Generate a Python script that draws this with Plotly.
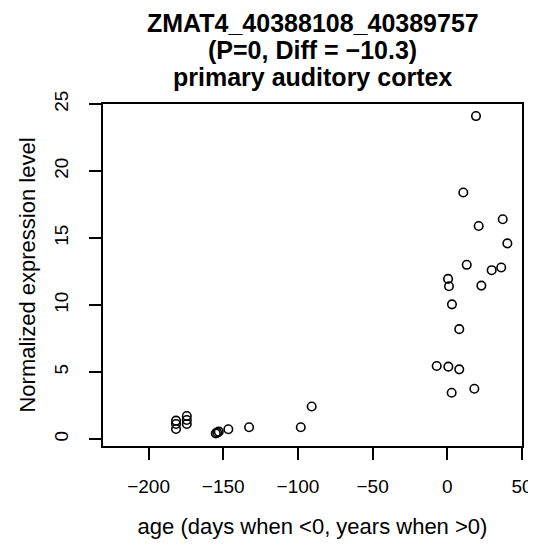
import plotly.graph_objects as go

# age (days when <0, years when >0) and normalized expression level
age = [-181.6, -181.6, -181.6, -174.4, -174.4, -174.4,
       -155, -154, -153, -146.6, -132.7, -98.1, -90.8,
       -7.1, 0.5, 1.1, 0.7, 2.9, 3.1, 8.0, 8.0, 10.7, 13.0,
       18.1, 19.2, 21.0, 22.8, 29.7, 36.1, 37.1, 40.2]
expr = [1.37, 1.12, 0.75, 1.72, 1.42, 1.12,
        0.42, 0.48, 0.55, 0.73, 0.88, 0.88, 2.43,
        5.45, 11.95, 11.4, 5.4, 3.45, 10.05, 8.2, 5.2, 18.4, 13.0,
        3.75, 24.1, 15.9, 11.45, 12.6, 12.8, 16.4, 14.6]

x_ticks = [-200, -150, -100, -50, 0, 50]
y_ticks = [0, 5, 10, 15, 20, 25]

title_lines = ["ZMAT4_40388108_40389757",
               "(P=0, Diff = \u221210.3)",
               "primary auditory cortex"]

# the page body has an 8px margin, so the figure is 8px smaller than the window
W, H = 528, 545
L, R, T, B = 95, 14, 96, 107
plot_h = H - T - B

fig = go.Figure()
fig.add_trace(
    go.Scatter(
        x=age,
        y=expr,
        mode="markers",
        marker=dict(symbol="circle-open", size=8.5, color="black",
                    line=dict(width=1.6, color="black")),
        showlegend=False,
    )
)

fig.update_xaxes(
    range=[-230.5, 50],
    tickvals=x_ticks,
    ticks="outside",
    ticklen=12,
    tickwidth=1.5,
    tickcolor="black",
    tickfont=dict(size=19),
    showline=True,
    linecolor="black",
    linewidth=1.5,
    mirror=True,
    showgrid=False,
    zeroline=False,
    automargin=False,
    ticklabelstandoff=10,
    title=dict(text="age (days when <0, years when >0)", standoff=23),
)
fig.update_yaxes(
    range=[-0.52, 25],
    tickvals=y_ticks,
    tickangle=-90,
    ticks="outside",
    ticklen=12,
    tickwidth=1.5,
    tickcolor="black",
    tickfont=dict(size=19),
    showline=True,
    linecolor="black",
    linewidth=1.5,
    mirror=True,
    showgrid=False,
    zeroline=False,
    automargin=False,
    ticklabelstandoff=14,
    title=dict(text="Normalized expression level", standoff=9),
)

# title lines placed one by one (pixel centres from the top of the figure)
line_centres = [15, 42, 69]
for text, py in zip(title_lines, line_centres):
    fig.add_annotation(
        text="<b>" + text + "</b>",
        x=0.5, xref="paper",
        y=(H - B - py) / plot_h, yref="paper",
        yanchor="middle",
        showarrow=False,
        font=dict(size=25),
    )

fig.update_layout(
    width=W,
    height=H,
    margin=dict(l=L, r=R, t=T, b=B),
    plot_bgcolor="white",
    paper_bgcolor="white",
    font=dict(family="Liberation Sans", size=18, color="black"),
)

fig.write_html("out.html")
